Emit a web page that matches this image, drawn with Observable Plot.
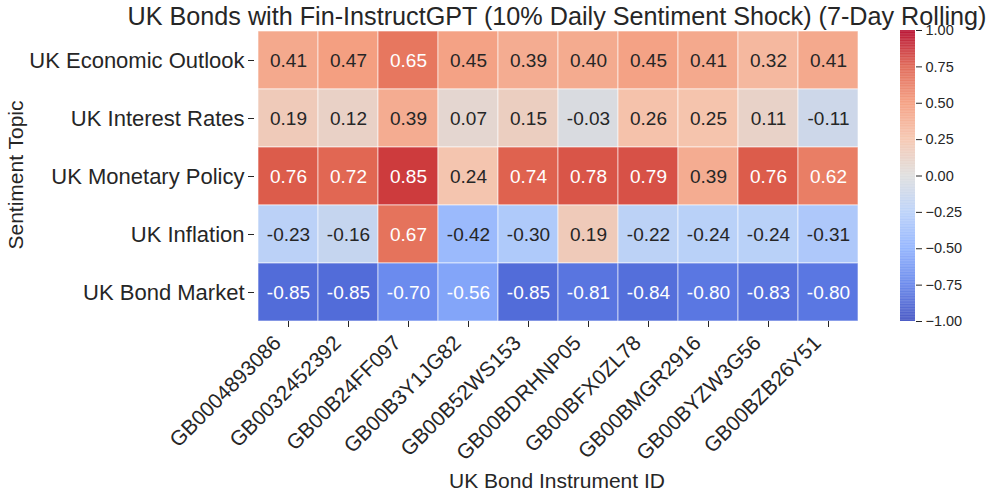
<!DOCTYPE html>
<html><head><meta charset="utf-8">
<script src="https://cdn.jsdelivr.net/npm/d3@7"></script>
<script src="https://cdn.jsdelivr.net/npm/@observablehq/plot@0.6"></script>
<style>
body{margin:0;background:#fff;font-family:"Liberation Sans",Arial,sans-serif;color:#262626}
#wrap{position:relative;width:997px;height:499px;overflow:hidden;background:#fff}
#wrap svg{position:absolute;left:0;top:0}
.t{position:absolute;white-space:nowrap;color:#262626;line-height:1}
</style></head><body>
<div id="wrap"></div>
<script>
const title = "UK Bonds with Fin-InstructGPT (10% Daily Sentiment Shock) (7-Day Rolling)";
const xLabel = "UK Bond Instrument ID";
const yLabel = "Sentiment Topic";
const instruments = ["GB0004893086","GB0032452392","GB00B24FF097","GB00B3Y1JG82","GB00B52WS153","GB00BDRHNP05","GB00BFX0ZL78","GB00BMGR2916","GB00BYZW3G56","GB00BZB26Y51"];
const topics = ["UK Economic Outlook","UK Interest Rates","UK Monetary Policy","UK Inflation","UK Bond Market"];
const economicOutlook = [0.41,0.47,0.65,0.45,0.39,0.40,0.45,0.41,0.32,0.41];
const interestRates   = [0.19,0.12,0.39,0.07,0.15,-0.03,0.26,0.25,0.11,-0.11];
const monetaryPolicy  = [0.76,0.72,0.85,0.24,0.74,0.78,0.79,0.39,0.76,0.62];
const inflation       = [-0.23,-0.16,0.67,-0.42,-0.30,0.19,-0.22,-0.24,-0.24,-0.31];
const bondMarket      = [-0.85,-0.85,-0.70,-0.56,-0.85,-0.81,-0.84,-0.80,-0.83,-0.80];
const colorbarTicks = [-1,-0.75,-0.5,-0.25,0,0.25,0.5,0.75,1];
// coolwarm palette stops
const paletteStops = [-1,-0.75,-0.5,-0.25,0,0.25,0.5,0.75,1];
const paletteColors = ["#3b4cc0","#6282ea","#8db0fe","#b8d0f9","#dddddd","#f5c4ad","#f49a7b","#de604d","#b40426"];

const rows = [economicOutlook, interestRates, monetaryPolicy, inflation, bondMarket];
const data = topics.flatMap((topic, i) => instruments.map((instrument, j) => ({topic, instrument, value: rows[i][j]})));

const cscale = d3.scaleLinear(paletteStops, paletteColors).interpolate(d3.interpolateRgb);
function lum(v) {
  const c = d3.rgb(cscale(v));
  const f = x => { x /= 255; return x <= 0.03928 ? x / 12.92 : Math.pow((x + 0.055) / 1.055, 2.4); };
  return 0.2126 * f(c.r) + 0.7152 * f(c.g) + 0.0722 * f(c.b);
}
const isDark = d => lum(d.value) > 0.408;

const font = "Liberation Sans, Arial, sans-serif";
const colorOpts = {type: "linear", domain: paletteStops, range: paletteColors, interpolate: "rgb"};

const main = Plot.plot({
  width: 997, height: 499,
  marginLeft: 254, marginRight: 135, marginTop: 30, marginBottom: 178,
  style: {fontFamily: font, color: "#262626", background: "transparent"},
  x: {domain: instruments, padding: 0, label: null},
  y: {domain: topics, padding: 0, label: null},
  color: colorOpts,
  marks: [
    Plot.cell(data, {x: "instrument", y: "topic", fill: "value", stroke: "white", strokeWidth: 1, strokeOpacity: 0.6}),
    Plot.text(data, {filter: isDark, x: "instrument", y: "topic", text: d => d.value.toFixed(2), fill: "#262626", fontSize: 19}),
    Plot.text(data, {filter: d => !isDark(d), x: "instrument", y: "topic", text: d => d.value.toFixed(2), fill: "white", fontSize: 19}),
    Plot.axisX({text: null, tickSize: 6, label: null}),
    Plot.axisX({tickSize: 0, tickRotate: -45, fontSize: 21, tickPadding: 10, dx: -11, dy: 8, label: null}),
    Plot.axisY({fontSize: 22, tickSize: 6, tickPadding: 4, label: null})
  ]
});

const bar = Plot.plot({
  width: 997, height: 499,
  marginLeft: 900, marginRight: 82, marginTop: 30, marginBottom: 178,
  style: {fontFamily: font, color: "#262626", background: "transparent"},
  y: {domain: [-1, 1], label: null},
  color: colorOpts,
  marks: [
    Plot.rect(d3.range(-1, 1, 0.005), {y1: d => d, y2: d => Math.min(1, d + 0.006), fill: d => d + 0.0025}),
    Plot.axisY({anchor: "right", ticks: colorbarTicks, tickFormat: ".2f", fontSize: 14.5, tickSize: 6, tickPadding: 4, label: null})
  ]
});

const wrap = document.getElementById("wrap");
wrap.appendChild(main);
wrap.appendChild(bar);

function addText(txt, css) {
  const d = document.createElement("div");
  d.className = "t";
  d.textContent = txt;
  Object.assign(d.style, css);
  wrap.appendChild(d);
}
addText(title, {left: "557px", top: "4px", fontSize: "25.2px", transform: "translateX(-50%)"});
addText(xLabel, {left: "557px", top: "470px", fontSize: "21px", transform: "translateX(-50%)"});
addText(yLabel, {left: "15px", top: "175px", fontSize: "21px", transform: "translate(-50%,-50%) rotate(-90deg)"});
</script>
</body></html>
